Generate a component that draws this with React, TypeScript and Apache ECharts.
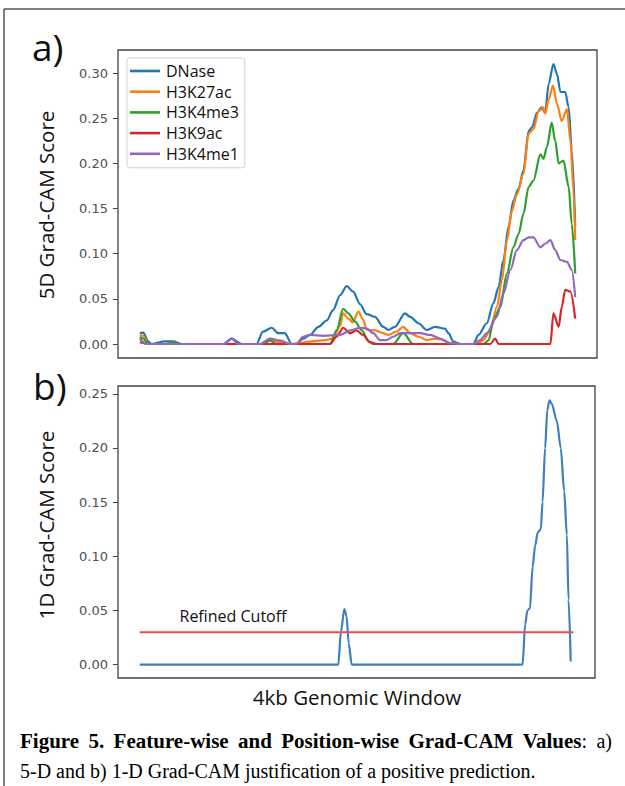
import React, { useEffect, useRef } from "react";
import * as echarts from "echarts";

// x = position across the 4kb window (0..100 %), y = Grad-CAM score
const dnase: [number, number][] = [
  [0, 0.012], [0.8, 0.0125], [1.9, 0.003], [2.7, 0], [5.8, 0.003], [7.7, 0.003], [9.6, 0],
  [19.2, 0], [21.1, 0.006], [23.4, 0], [26.8, 0], [28.3, 0.0136], [30.3, 0.018], [31.8, 0.012],
  [33.3, 0.012], [34.9, 0], [36.0, 0], [37.5, 0.006], [39.1, 0.01], [41.0, 0.019], [42.9, 0.026],
  [44.4, 0.0375], [46.0, 0.054], [47.5, 0.064], [49.0, 0.058], [50.6, 0.044], [52.1, 0.033],
  [54.0, 0.03], [55.9, 0.019], [57.1, 0.0155], [58.6, 0.019], [60.9, 0.034], [62.1, 0.03],
  [64.0, 0.023], [65.9, 0.0155], [67.8, 0.019], [70.1, 0.017], [70.9, 0.012], [72.0, 0.0026],
  [73.6, 0], [76.6, 0], [77.8, 0.01], [79.7, 0.023], [81.2, 0.045], [82.4, 0.063], [83.5, 0.093],
  [84.7, 0.13], [85.8, 0.159], [87.0, 0.172], [88.1, 0.192], [89.3, 0.236], [90.1, 0.24],
  [91.2, 0.256], [92.3, 0.262], [93.1, 0.256], [93.9, 0.288], [95.0, 0.31], [95.8, 0.299],
  [96.6, 0.279], [97.7, 0.279], [98.5, 0.262], [99.2, 0.214], [100, 0.13],
];
const h3k27ac: [number, number][] = [
  [0, 0.01], [0.8, 0.009], [1.9, 0], [28.0, 0], [29.9, 0.004], [32.2, 0.002], [34.5, 0],
  [42.1, 0.004], [44.4, 0.006], [46.0, 0.02], [46.7, 0.034], [47.9, 0.028], [48.9, 0.024],
  [50.2, 0.036], [51.3, 0.027], [52.1, 0.016], [54.0, 0.015], [55.9, 0.012], [57.1, 0.01],
  [59.0, 0.014], [60.5, 0.019], [62.1, 0.012], [64.0, 0.008], [65.9, 0.0044], [67.8, 0.006],
  [69.7, 0.0044], [71.3, 0.0007], [73.6, 0], [77.4, 0], [78.9, 0.0044], [80.5, 0.015],
  [82.0, 0.041], [83.2, 0.071], [84.3, 0.115], [85.5, 0.148], [86.6, 0.166], [88.1, 0.188],
  [89.3, 0.233], [90.4, 0.238], [91.6, 0.258], [92.7, 0.262], [93.1, 0.255], [93.9, 0.271],
  [94.9, 0.286], [95.8, 0.266], [96.9, 0.247], [98.1, 0.26], [98.9, 0.225], [99.6, 0.17],
  [100, 0.115],
];
const h3k4me3: [number, number][] = [
  [0, 0.008], [0.8, 0.006], [1.9, 0], [5.8, 0], [7.7, 0.002], [9.6, 0], [28.3, 0], [29.9, 0.004],
  [31.4, 0], [43.7, 0], [45.2, 0.015], [46.7, 0.039], [47.9, 0.034], [49.4, 0.025], [51.0, 0.015],
  [52.5, 0.003], [53.6, 0], [58.2, 0], [60.5, 0.012], [62.8, 0], [78.9, 0], [80.1, 0.004],
  [81.2, 0.0265], [82.8, 0.041], [84.3, 0.078], [85.8, 0.107], [87.0, 0.122], [88.1, 0.144],
  [89.3, 0.174], [90.4, 0.181], [92.0, 0.21], [92.7, 0.205], [93.5, 0.218], [94.6, 0.245],
  [95.4, 0.225], [96.2, 0.2], [97.3, 0.203], [98.5, 0.174], [99.2, 0.133], [100, 0.078],
];
const h3k9ac: [number, number][] = [
  [0, 0.002], [2.3, 0], [43.7, 0], [45.2, 0.008], [46.7, 0.018], [48.3, 0.012], [49.8, 0.015],
  [51.3, 0.01], [52.9, 0.002], [54.3, 0], [80.5, 0], [81.6, 0.006], [82.4, 0], [94.3, 0],
  [95.0, 0.034], [96.2, 0.019], [96.9, 0.041], [97.7, 0.06], [98.9, 0.058], [100, 0.028],
];
const h3k4me1: [number, number][] = [
  [0, 0.006], [1.5, 0], [19.5, 0], [21.1, 0.006], [22.6, 0], [27.6, 0], [29.9, 0.006],
  [32.2, 0.004], [34.5, 0], [36.0, 0], [37.5, 0.008], [39.1, 0.01], [42.1, 0.009], [46.0, 0.01],
  [48.3, 0.015], [50.6, 0.018], [52.1, 0.017], [53.6, 0.012], [55.2, 0.0044], [56.7, 0.0044],
  [58.2, 0.008], [59.8, 0.012], [62.1, 0.012], [64.4, 0.012], [66.7, 0.01], [69.0, 0.006],
  [71.3, 0.0007], [73.6, 0], [76.6, 0], [78.2, 0.0044], [79.7, 0.012], [82.0, 0.03],
  [83.5, 0.056], [85.1, 0.082], [86.6, 0.104], [88.1, 0.115], [89.3, 0.118], [90.4, 0.118],
  [92.0, 0.107], [93.1, 0.111], [94.3, 0.115], [95.4, 0.104], [96.6, 0.093], [98.1, 0.091],
  [99.2, 0.082], [100, 0.052],
];
const gradCam1D: [number, number][] = [
  [0, 0], [45.8, 0], [46.4, 0.03], [47.2, 0.0513], [47.7, 0.045], [48.2, 0.02], [48.9, 0],
  [88.3, 0], [88.9, 0.0375], [89.4, 0.05], [90.0, 0.052], [90.6, 0.09], [91.2, 0.11],
  [91.8, 0.122], [92.5, 0.125], [92.9, 0.15], [93.5, 0.2], [94.0, 0.235], [94.5, 0.244],
  [95.0, 0.241], [96.2, 0.225], [97.1, 0.2], [97.9, 0.16], [98.5, 0.12], [98.9, 0.06], [99.4, 0.003],
];
const cutoffValue = 0.03;
const cutoffRange = [0, 100];

const seriesNames = ["DNase", "H3K27ac", "H3K4me3", "H3K9ac", "H3K4me1"];
const seriesColors = ["#1f77b4", "#ff7f0e", "#2ca02c", "#d62728", "#9467bd"];
const ticksA = [0, 0.05, 0.1, 0.15, 0.2, 0.25, 0.3];
const ticksB = [0, 0.05, 0.1, 0.15, 0.2, 0.25];

// caption line 1 tokens (justified), [bold part, normal suffix]
const captionLine1: [string, string][] = [
  ["Figure", ""], ["5.", ""], ["Feature-wise", ""], ["and", ""], ["Position-wise", ""],
  ["Grad-CAM", ""], ["Values", ":"], ["", "a)"],
];
const captionLine2 = "5-D and b) 1-D Grad-CAM justification of a positive prediction.";

const CAP_FONT = "'Liberation Serif', 'Times New Roman', serif";
const CAP_SIZE = 20;
const CAP_BOLD_SIZE = 21;

function buildCaption(): any[] {
  const cv = document.createElement("canvas");
  const ctx = cv.getContext("2d")!;
  const measure = (t: string, bold: boolean) => {
    ctx.font = `${bold ? "bold " : ""}${bold ? CAP_BOLD_SIZE : CAP_SIZE}px ${CAP_FONT}`;
    return ctx.measureText(t).width;
  };
  const widths = captionLine1.map(([b, n]) => measure(b, true) + measure(n, false));
  const left = 20;
  const right = 612;
  const total = widths.reduce((a, c) => a + c, 0);
  const gap = (right - left - total) / (captionLine1.length - 1);
  const out: any[] = [];
  let x = left;
  captionLine1.forEach(([b, n], i) => {
    let text = "";
    if (b) text += `{b|${b}}`;
    if (n) text += `{n|${n}}`;
    out.push({
      type: "text",
      x,
      y: 741,
      style: {
        text,
        verticalAlign: "middle",
        rich: {
          b: { fontFamily: CAP_FONT, fontSize: CAP_BOLD_SIZE, fontWeight: "bold", fill: "#000" },
          n: { fontFamily: CAP_FONT, fontSize: CAP_SIZE, fill: "#000" },
        },
      },
    });
    x += widths[i] + gap;
  });
  out.push({
    type: "text",
    x: left,
    y: 771,
    style: { text: captionLine2, fontFamily: CAP_FONT, fontSize: CAP_SIZE, fill: "#000", verticalAlign: "middle" },
  });
  return out;
}

export default function App() {
  const ref = useRef<HTMLDivElement>(null);
  useEffect(() => {
    if (!ref.current) return;
    const chart = echarts.init(ref.current, null, { renderer: "svg" });
    const fivePanel = [dnase, h3k27ac, h3k4me3, h3k9ac, h3k4me1];
    const yAxisCommon = (ticks: number[], idx: number, min: number, max: number) => ({
      type: "value",
      gridIndex: idx,
      min,
      max,
      axisLine: { show: false, onZero: false },
      splitLine: { show: false },
      axisTick: { show: true, customValues: ticks, length: 5, lineStyle: { color: "#444", width: 1 } },
      axisLabel: {
        customValues: ticks,
        formatter: (v: number) => v.toFixed(2),
        color: "#505050",
        fontFamily: "DejaVu Sans",
        fontSize: 13,
        margin: 10,
      },
    });
    const xAxisCommon = (idx: number) => ({
      type: "value",
      gridIndex: idx,
      min: -5,
      max: 105,
      axisLine: { show: false, onZero: false },
      splitLine: { show: false },
      axisTick: { show: false },
      axisLabel: { show: false },
    });
    const option: any = {
      animation: false,
      backgroundColor: "#fff",
      grid: [
        { left: 118, top: 50, width: 479, height: 308, show: true, borderColor: "#444", borderWidth: 1.3, backgroundColor: "transparent" },
        { left: 118, top: 386, width: 477, height: 292, show: true, borderColor: "#444", borderWidth: 1.3, backgroundColor: "transparent" },
      ],
      xAxis: [xAxisCommon(0), xAxisCommon(1)],
      yAxis: [yAxisCommon(ticksA, 0, -0.0155, 0.3255), yAxisCommon(ticksB, 1, -0.0123, 0.2572)],
      legend: {
        data: seriesNames,
        orient: "vertical",
        left: 127,
        top: 58,
        icon: "path://M0,0 L30,0 L30,2.6 L0,2.6 Z",
        itemWidth: 30,
        itemHeight: 16,
        itemGap: 4.7,
        padding: [5, 6, 6, 3],
        itemStyle: { borderWidth: 0 },
        backgroundColor: "rgba(255,255,255,0.85)",
        borderColor: "#d0d0d0",
        borderWidth: 1,
        borderRadius: 3,
        textStyle: { fontFamily: "Open Sans", fontSize: 16, color: "#111", padding: [0, 0, 0, 1] },
      },
      series: [
        ...fivePanel.map((d, i) => ({
          name: seriesNames[i],
          type: "line",
          xAxisIndex: 0,
          yAxisIndex: 0,
          data: d,
          symbol: "none",
          smooth: 0.3,
          smoothMonotone: "x",
          lineStyle: { color: seriesColors[i], width: 2.2 },
          itemStyle: { color: seriesColors[i] },
        })),
        {
          name: "1D",
          type: "line",
          xAxisIndex: 1,
          yAxisIndex: 1,
          data: gradCam1D,
          symbol: "none",
          smooth: 0.3,
          smoothMonotone: "x",
          lineStyle: { color: "#3f7fbf", width: 2.2 },
        },
        {
          name: "Refined Cutoff",
          type: "line",
          xAxisIndex: 1,
          yAxisIndex: 1,
          data: cutoffRange.map((x) => [x, cutoffValue]),
          symbol: "none",
          lineStyle: { color: "#f04a4a", width: 2 },
        },
      ],
      graphic: [
        { type: "line", shape: { x1: 4, y1: 9, x2: 4, y2: 786 }, style: { stroke: "#555", lineWidth: 1.5 } },
        { type: "line", shape: { x1: 4, y1: 9, x2: 625, y2: 9 }, style: { stroke: "#555", lineWidth: 1.5 } },
        { type: "text", x: 32, y: 46, style: { text: "a)", fontFamily: "Open Sans", fontSize: 37, fill: "#111", verticalAlign: "middle" } },
        { type: "text", x: 33, y: 385, style: { text: "b)", fontFamily: "Open Sans", fontSize: 37, fill: "#111", verticalAlign: "middle" } },
        {
          type: "text", x: 46, y: 205, rotation: Math.PI / 2,
          style: { text: "5D Grad-CAM Score", fontFamily: "Open Sans", fontSize: 20.5, fill: "#111", align: "center", verticalAlign: "middle" },
        },
        {
          type: "text", x: 46, y: 525, rotation: Math.PI / 2,
          style: { text: "1D Grad-CAM Score", fontFamily: "Open Sans", fontSize: 20.5, fill: "#111", align: "center", verticalAlign: "middle" },
        },
        {
          type: "text", x: 233, y: 616,
          style: { text: "Refined Cutoff", fontFamily: "Open Sans", fontSize: 16, fill: "#111", align: "center", verticalAlign: "middle" },
        },
        {
          type: "text", x: 357, y: 697,
          style: { text: "4kb Genomic Window", fontFamily: "Open Sans", fontSize: 20.5, fill: "#111", align: "center", verticalAlign: "middle" },
        },
        ...buildCaption(),
      ],
    };
    chart.setOption(option);
    return () => chart.dispose();
  }, []);
  return <div ref={ref} style={{ position: "absolute", left: 0, top: 0, width: 625, height: 786 }} />;
}
